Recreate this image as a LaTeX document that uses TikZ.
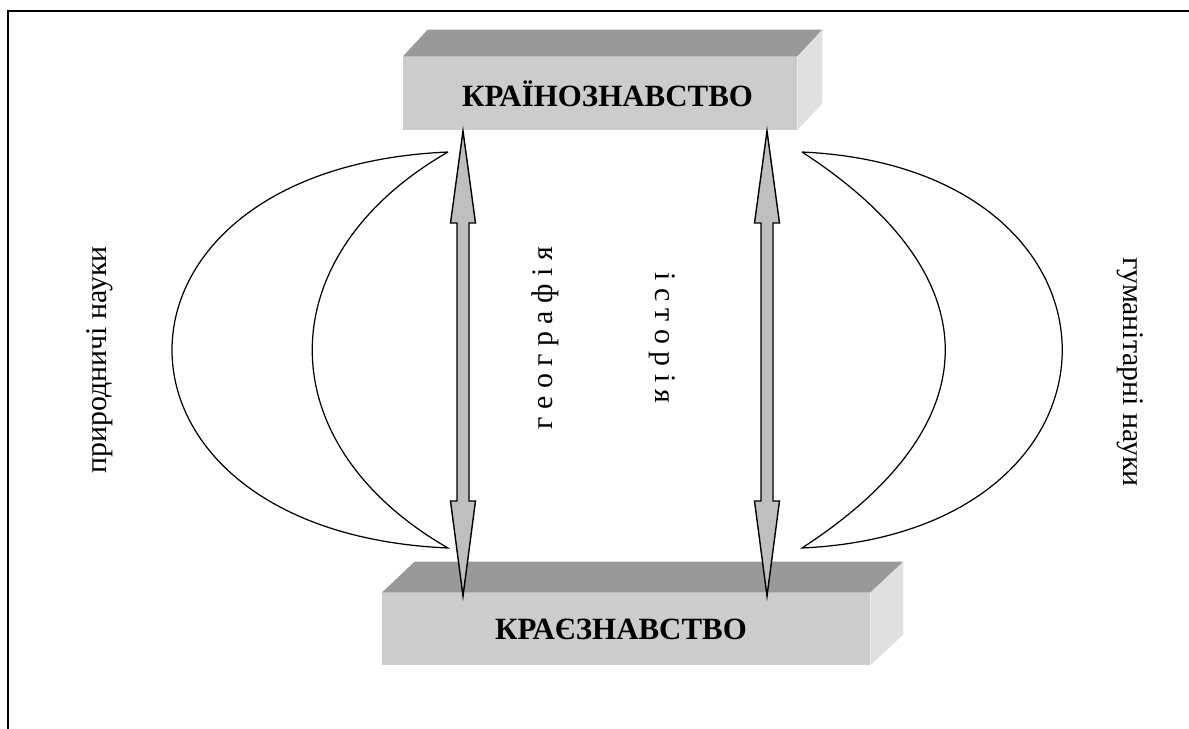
\documentclass[tikz,border=0pt]{standalone}
\usepackage{fontspec}
\setmainfont{Liberation Serif}
\usetikzlibrary{calc}

\tikzset{
  boxfront/.style={draw=none, fill=gray!40, inner sep=0pt,
    font=\fontsize{17.6}{20}\selectfont\bfseries},
  boxtop/.style={fill=gray!80},
  boxside/.style={fill=gray!24},
  arrowbody/.style={draw=black, fill=gray!50, line width=0.8pt, line join=miter},
  crescent/.style={draw=black, line width=0.7pt},
  sidelabel/.style={inner sep=0pt, font=\fontsize{17}{20}\selectfont},
}

% double arrow from tip #1 (top) to tip #2 (bottom)
\newcommand{\bigarrow}[2]{%
  \path[arrowbody] (#1) -- ($(#1)+(12.5,92)$) -- ($(#1)+(6,92)$)
    -- ($(#2)+(6,-95)$) -- ($(#2)+(12.5,-95)$) -- (#2)
    -- ($(#2)+(-12.5,-95)$) -- ($(#2)+(-6,-95)$)
    -- ($(#1)+(-6,92)$) -- ($(#1)+(-12.5,92)$) -- cycle;
}

\begin{document}
\begin{tikzpicture}[x=0.02cm, y=-0.02cm]
    \useasboundingbox (0,0) rectangle (1189,729);

    % frame
    \draw[line width=0.8pt] (8,729) -- (8,11) -- (1189,11);

    % upper box
    \node[boxfront, minimum width=7.88cm, minimum height=1.46cm, text depth=0pt]
        (kraino) at (600,93.5) {\hspace*{0.3cm}КРАЇНОЗНАВСТВО};
    \path[boxtop] (kraino.north west) -- ++(25,-27) -- ($(kraino.north east)+(25,-27)$)
        -- (kraino.north east) -- cycle;
    \path[boxside] (kraino.north east) -- ++(25,-27) -- ($(kraino.south east)+(25,-27)$)
        -- (kraino.south east) -- cycle;

    % lower box
    \node[boxfront, minimum width=9.76cm, minimum height=1.44cm]
        (kraie) at (626,629) {КРАЄЗНАВСТВО\hspace*{0.2cm}};
    \path[boxtop] (kraie.north west) -- ++(33,-31) -- ($(kraie.north east)+(33,-31)$)
        -- (kraie.north east) -- cycle;
    \path[boxside] (kraie.north east) -- ++(33,-31) -- ($(kraie.south east)+(33,-31)$)
        -- (kraie.south east) -- cycle;

    % arrows between the boxes
    \coordinate (geoTop) at (463,131);
    \coordinate (geoBot) at (463,596);
    \coordinate (histTop) at (767,131);
    \coordinate (histBot) at (767,596);
    \bigarrow{geoTop}{geoBot}
    \bigarrow{histTop}{histBot}

    % crescents
    \coordinate (leftA) at (448,152);
    \coordinate (leftB) at (448,548);
    \draw[crescent] (leftA) .. controls (80,168) and (80,532) .. (leftB)
        .. controls (267,444) and (267,256) .. (leftA);
    \coordinate (rightA) at (802,152);
    \coordinate (rightB) at (802,548);
    \draw[crescent] (rightA) .. controls (1149,168) and (1149,532) .. (rightB)
        .. controls (993,424) and (993,276) .. (rightA);

    % labels
    \node[sidelabel, rotate=90] (natural) at (100,360) {природничі науки};
    \node[sidelabel, rotate=-90] (humanit) at (1130,372) {гуманітарні науки};
    \node[sidelabel, rotate=90] (geo) at (545,338) {г е о г р а ф і я};
    \node[sidelabel, rotate=-90] (hist) at (662,338) {і с т о р і я};
\end{tikzpicture}
\end{document}
